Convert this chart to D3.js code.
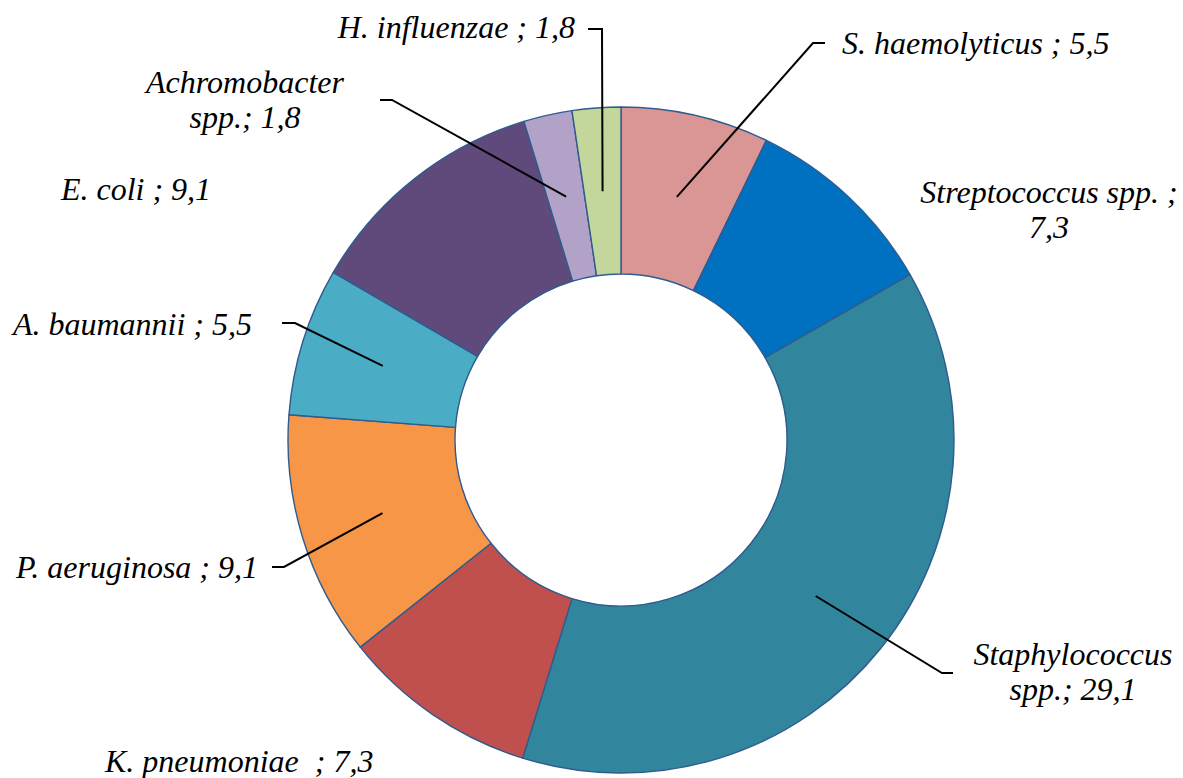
<!DOCTYPE html>
<html>
<head>
<meta charset="utf-8">
<script src="https://cdn.jsdelivr.net/npm/d3@7"></script>
<style>
  html, body { margin: 0; padding: 0; background: #fff; }
</style>
</head>
<body>
<svg id="chart" width="1183" height="778"></svg>
<script>
// Share of isolated pathogens, clockwise from 12 o'clock
const categories = [
  "S. haemolyticus", "Streptococcus spp.", "Staphylococcus spp.", "K. pneumoniae",
  "P. aeruginosa", "A. baumannii", "E. coli", "Achromobacter spp.", "H. influenzae"
];
const values = [5.5, 7.3, 29.1, 7.3, 9.1, 5.5, 9.1, 1.8, 1.8];
const valueLabels = ["5,5", "7,3", "29,1", "7,3", "9,1", "5,5", "9,1", "1,8", "1,8"];
const colors = [
  "#D99694", "#0070C0", "#31859C", "#C0504D",
  "#F79646", "#4BACC6", "#604A7B", "#B3A2C7", "#C3D69B"
];

// Label text lines and placement (text anchor point, optional leader elbow + tail end)
const labelLayout = [
  { lines: ["S. haemolyticus ; 5,5"], x: 842, y: 54, anchor: "start", elbow: [813, 43], tail: [825, 43] },
  { lines: ["Streptococcus spp. ;", "7,3"], x: 1049, y: 203, anchor: "middle" },
  { lines: ["Staphylococcus", "spp.; 29,1"], x: 1073, y: 665, anchor: "middle", elbow: [942, 673], tail: [953, 673] },
  { lines: ["K. pneumoniae\u00A0 ; 7,3"], x: 105, y: 772, anchor: "start" },
  { lines: ["P. aeruginosa ; 9,1"], x: 258, y: 578, anchor: "end", elbow: [284, 567], tail: [272, 567] },
  { lines: ["A. baumannii ; 5,5"], x: 252, y: 335, anchor: "end", elbow: [295, 323], tail: [282, 323] },
  { lines: ["E. coli ; 9,1"], x: 136, y: 200, anchor: "middle" },
  { lines: ["Achromobacter", "spp.; 1,8"], x: 245, y: 93, anchor: "middle", elbow: [392, 100], tail: [380, 100] },
  { lines: ["H. influenzae ; 1,8"], x: 575, y: 38, anchor: "end", elbow: [602, 29], tail: [588, 29] }
];

const cx = 621, cy = 440;
const outerR = 333, innerR = 166;
const fontSize = 32, lineGap = 35;

const svg = d3.select("#chart");

const pie = d3.pie().sort(null).value(d => d.value).startAngle(0).endAngle(2 * Math.PI);
const arc = d3.arc().innerRadius(innerR).outerRadius(outerR);

const data = categories.map((c, i) => ({ name: c, value: values[i], label: valueLabels[i], color: colors[i], layout: labelLayout[i] }));
const arcs = pie(data);

const g = svg.append("g").attr("transform", `translate(${cx},${cy})`);

g.selectAll("path.slice")
  .data(arcs)
  .join("path")
  .attr("class", "slice")
  .attr("d", arc)
  .attr("fill", d => d.data.color)
  .attr("stroke", "#2F5B8E")
  .attr("stroke-width", 1.4)
  .attr("stroke-linejoin", "round");

// Leader lines: from slice centroid to the elbow, then a short horizontal tail
const leaderGroup = svg.append("g");
arcs.filter(d => d.data.layout.elbow).forEach(d => {
  const [px, py] = arc.centroid(d);
  const L = d.data.layout;
  leaderGroup.append("polyline")
    .attr("points", [[cx + px, cy + py], L.elbow, L.tail].map(p => p.join(",")).join(" "))
    .attr("fill", "none")
    .attr("stroke", "#000")
    .attr("stroke-width", 2);
});

// Category labels
const labels = svg.append("g")
  .selectAll("text")
  .data(arcs)
  .join("text")
  .attr("x", d => d.data.layout.x)
  .attr("y", d => d.data.layout.y)
  .attr("text-anchor", d => d.data.layout.anchor)
  .attr("font-family", "'Liberation Serif'")
  .attr("font-style", "italic")
  .attr("font-size", fontSize)
  .attr("fill", "#000");

labels.each(function(d) {
  const t = d3.select(this);
  d.data.layout.lines.forEach((line, k) => {
    t.append("tspan")
      .attr("x", d.data.layout.x)
      .attr("dy", k === 0 ? 0 : lineGap)
      .text(line);
  });
});
</script>
</body>
</html>
